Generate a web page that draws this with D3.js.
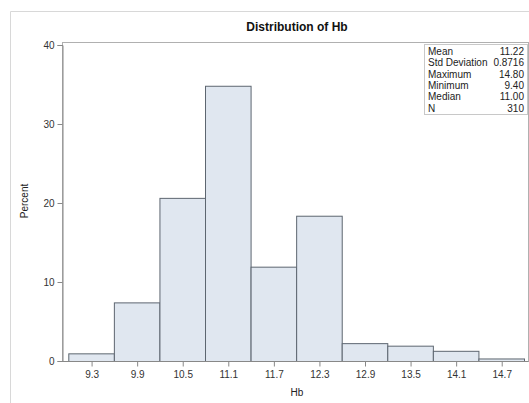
<!DOCTYPE html>
<html>
<head>
<meta charset="utf-8">
<script src="https://cdn.jsdelivr.net/npm/d3@7"></script>
<style>
  html, body { margin: 0; padding: 0; background: #fff; }
  svg { display: block; font-family: "Liberation Sans", Arial, sans-serif; }
</style>
</head>
<body>
<svg id="chart" width="529" height="403"></svg>
<script>
// ---- data ----
const binMidpoints = [9.3, 9.9, 10.5, 11.1, 11.7, 12.3, 12.9, 13.5, 14.1, 14.7];
const percents = [0.97, 7.42, 20.65, 34.84, 11.94, 18.39, 2.26, 1.94, 1.29, 0.32];
const binWidth = 0.6;
const yTicks = [0, 10, 20, 30, 40];
const statLabels = ["Mean", "Std Deviation", "Maximum", "Minimum", "Median", "N"];
const statValues = ["11.22", "0.8716", "14.80", "9.40", "11.00", "310"];
const title = "Distribution of Hb";
const xTitle = "Hb";
const yTitle = "Percent";

// ---- layout ----
const svg = d3.select("#chart");
const frame = { left: 62, right: 528, top: 42, bottom: 361 };
const x = d3.scaleLinear().domain([9.0, 15.0]).range([68.3, 524]);
const y = d3.scaleLinear().domain([0, 40]).range([361, 45]);

// outer border (partially visible)
svg.append("path")
  .attr("d", "M10.5,403 L10.5,11.5 L529,11.5")
  .attr("fill", "none").attr("stroke", "#d8d8d8").attr("stroke-width", 1);

// title
svg.append("text").attr("x", 297).attr("y", 31)
  .attr("text-anchor", "middle").attr("font-size", 12).attr("font-weight", "bold")
  .attr("fill", "#111").text(title);

// plot frame
svg.append("rect")
  .attr("x", frame.left + 0.5).attr("y", frame.top + 0.5)
  .attr("width", frame.right - frame.left).attr("height", frame.bottom - frame.top)
  .attr("fill", "none").attr("stroke", "#b0b0b0");

// bars
svg.append("g").selectAll("rect").data(binMidpoints).join("rect")
  .attr("x", (d) => x(d - binWidth / 2) + 0.5)
  .attr("width", (d) => x(d + binWidth / 2) - x(d - binWidth / 2))
  .attr("y", (d, i) => y(percents[i]) + 0.5)
  .attr("height", (d, i) => y(0) - y(percents[i]))
  .attr("fill", "#e0e7f0").attr("stroke", "#5d6670").attr("stroke-width", 1);

// y axis
const yAxis = d3.axisLeft(y).tickValues(yTicks).tickSize(5).tickPadding(3);
const gy = svg.append("g").attr("transform", `translate(${frame.left + 0.5},0)`).call(yAxis);
gy.select(".domain").attr("stroke", "#888");
gy.selectAll(".tick line").attr("stroke", "#888");
gy.selectAll(".tick text").attr("font-size", 10).attr("fill", "#333")
  .attr("font-family", "Liberation Sans, Arial, sans-serif");

// x axis
const xAxis = d3.axisBottom(x).tickValues(binMidpoints).tickFormat(d3.format(".1f")).tickSize(5).tickPadding(4);
const gx = svg.append("g").attr("transform", `translate(0.5,${frame.bottom + 0.5})`).call(xAxis);
gx.select(".domain").attr("stroke", "#888").attr("d", `M${frame.left},0H${frame.right}`);
gx.selectAll(".tick line").attr("stroke", "#888");
gx.selectAll(".tick text").attr("font-size", 10).attr("fill", "#333")
  .attr("font-family", "Liberation Sans, Arial, sans-serif");

// axis titles
svg.append("text").attr("x", 297).attr("y", 396).attr("text-anchor", "middle")
  .attr("font-size", 10).attr("fill", "#222").text(xTitle);
svg.append("text").attr("transform", "translate(28,201) rotate(-90)")
  .attr("text-anchor", "middle").attr("font-size", 10).attr("fill", "#222").text(yTitle);

// stats inset
const box = { x: 424.5, y: 44.5, w: 103, h: 70 };
svg.append("rect").attr("x", box.x).attr("y", box.y).attr("width", box.w).attr("height", box.h)
  .attr("fill", "#fff").attr("stroke", "#c8c8c8");
const rowH = 11.3;
const gs = svg.append("g");
gs.selectAll("text.lbl").data(statLabels).join("text").attr("class", "lbl")
  .attr("x", box.x + 3.5).attr("y", (d, i) => box.y + 10.5 + i * rowH)
  .attr("font-size", 10).attr("fill", "#222").text((d) => d);
gs.selectAll("text.val").data(statValues).join("text").attr("class", "val")
  .attr("x", box.x + box.w - 3.5).attr("y", (d, i) => box.y + 10.5 + i * rowH)
  .attr("text-anchor", "end").attr("font-size", 10).attr("fill", "#222").text((d) => d);
</script>
</body>
</html>
